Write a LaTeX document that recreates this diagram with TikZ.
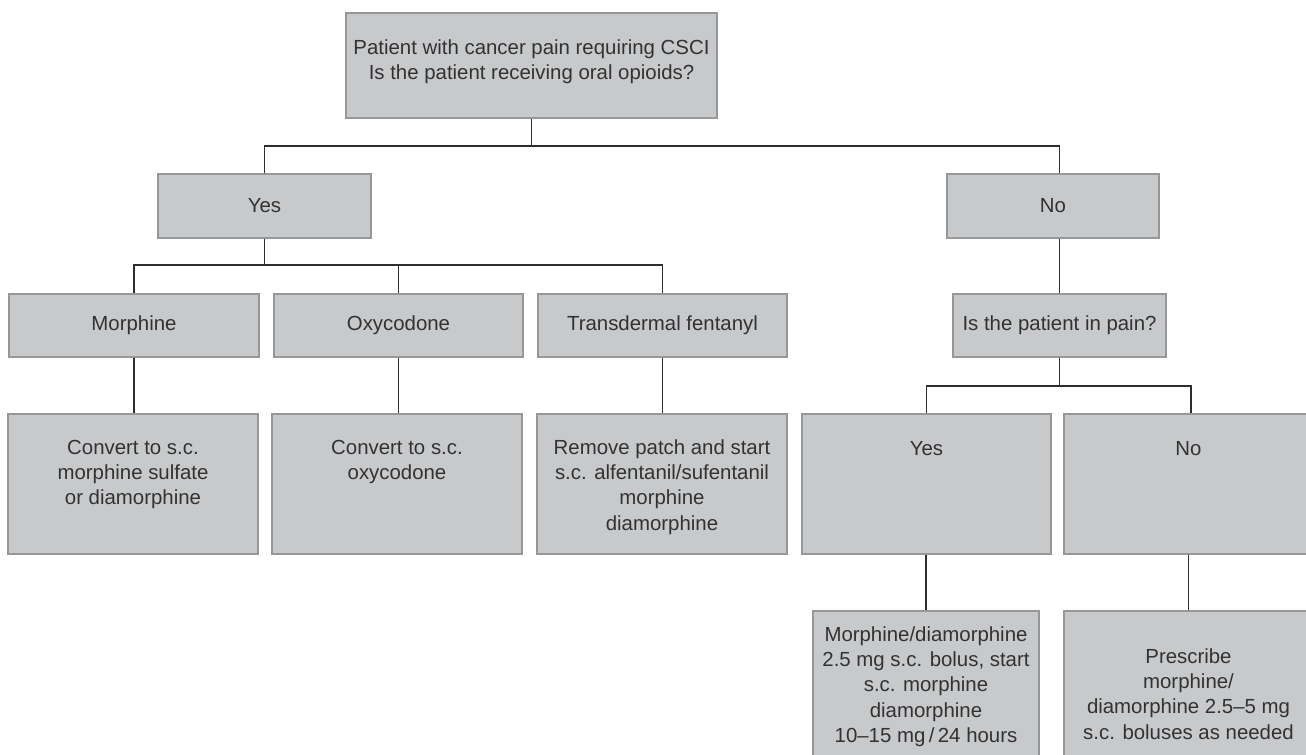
\documentclass[tikz,border=0pt]{standalone}
\usepackage{fontspec}
\setmainfont{Liberation Sans}
\definecolor{boxfill}{RGB}{200,201,203}
\definecolor{boxline}{RGB}{150,151,153}
\definecolor{wire}{RGB}{45,45,45}
\definecolor{ink}{RGB}{50,50,50}
\begin{document}
\begin{tikzpicture}[x=0.75pt,y=-0.75pt,
  box/.style={draw=boxline, fill=boxfill, line width=0.8pt, inner sep=0pt,
              text=ink, align=center, font=\fontsize{15.3}{19}\selectfont},
  sz/.style 2 args={minimum width={(#1)*0.75pt}, minimum height={(#2)*0.75pt}},
  txt/.style={inner sep=0pt, text=ink, align=center, font=\fontsize{15.3}{19}\selectfont},
  wirestyle/.style={draw=wire, line width=1pt}]
\clip (0,0) rectangle (1306,754);
\fill[white] (0,0) rectangle (1306,754);
% level 1
\node[box, sz={371}{105}] (top) at (531.5,65.5) {};
\node[txt] (toptxt) at (531.5,61.5) {Patient with cancer pain requiring CSCI\\Is the patient receiving oral opioids?};
% level 2
\node[box, sz={213}{64}] (yes1) at (264.5,206) {Yes};
\node[box, sz={212}{64}] (no1) at (1053,206) {No};
% level 3
\node[box, sz={250}{63}] (morph) at (134,325.5) {Morphine};
\node[box, sz={249}{63}] (oxy) at (398.5,325.5) {Oxycodone};
\node[box, sz={249}{63}] (trans) at (662.5,325.5) {Transdermal fentanyl};
\node[box, sz={213}{63}] (ispain) at (1059.5,325.5) {Is the patient in pain?};
% level 4
\node[box, sz={250}{140}] (conv1) at (133,484) {};
\node[txt] (conv1txt) at (133,474.5) {Convert to s.c.\\morphine sulfate\\or diamorphine};
\node[box, sz={250}{140}] (conv2) at (397,484) {};
\node[txt] (conv2txt) at (397,462) {Convert to s.c.\\oxycodone};
\node[box, sz={250}{140}] (remove) at (662,484) {};
\node[txt] (removetxt) at (662,487) {Remove patch and start\\s.c. alfentanil/sufentanil\\morphine\\diamorphine};
\node[box, sz={249}{140}] (yes2) at (926.5,484) {};
\node[txt] (yes2txt) at (926.5,449) {Yes};
\node[box, sz={249}{140}] (no2) at (1188.5,484) {};
\node[txt] (no2txt) at (1188.5,449) {No};
% level 5
\node[box, sz={226}{164}] (bot1) at (926,693) {};
\node[txt] (bot1txt) at (926,686.5) {Morphine/diamorphine\\2.5 mg s.c. bolus, start\\s.c. morphine\\diamorphine\\10--15 mg\,/\,24 hours};
\node[box, sz={249}{164}] (bot2) at (1188.5,693) {};
\node[txt] (bot2txt) at (1188.5,694) {Prescribe\\morphine/\\diamorphine 2.5--5 mg\\s.c. boluses as needed};
% connectors
\coordinate (j1) at (531.5,146);
\coordinate (j2) at (264.5,265);
\coordinate (j3) at (1059.5,386);
\draw[wirestyle] (top.south) -- (j1);
\draw[wirestyle] (yes1.north) |- (j1) -| (ispain.center |- no1.north);
\draw[wirestyle] (ispain.center |- no1.south) -- (ispain.north);
\draw[wirestyle] (yes1.south) -- (j2);
\draw[wirestyle] (morph.north) |- (j2) -| (trans.north);
\draw[wirestyle] (j2 -| oxy.north) -- (oxy.north);
\draw[wirestyle] (morph.south) -- (morph.south |- conv1.north);
\draw[wirestyle] (oxy.south) -- (oxy.south |- conv2.north);
\draw[wirestyle] (trans.south) -- (trans.south |- remove.north);
\draw[wirestyle] (ispain.south) -- (j3);
\draw[wirestyle] (yes2.north) |- (j3) -| ([xshift=1.9pt]no2.north);
\draw[wirestyle] (yes2.south -| bot1.north) -- (bot1.north);
\draw[wirestyle] (no2.south) -- (bot2.north);
\end{tikzpicture}
\end{document}
